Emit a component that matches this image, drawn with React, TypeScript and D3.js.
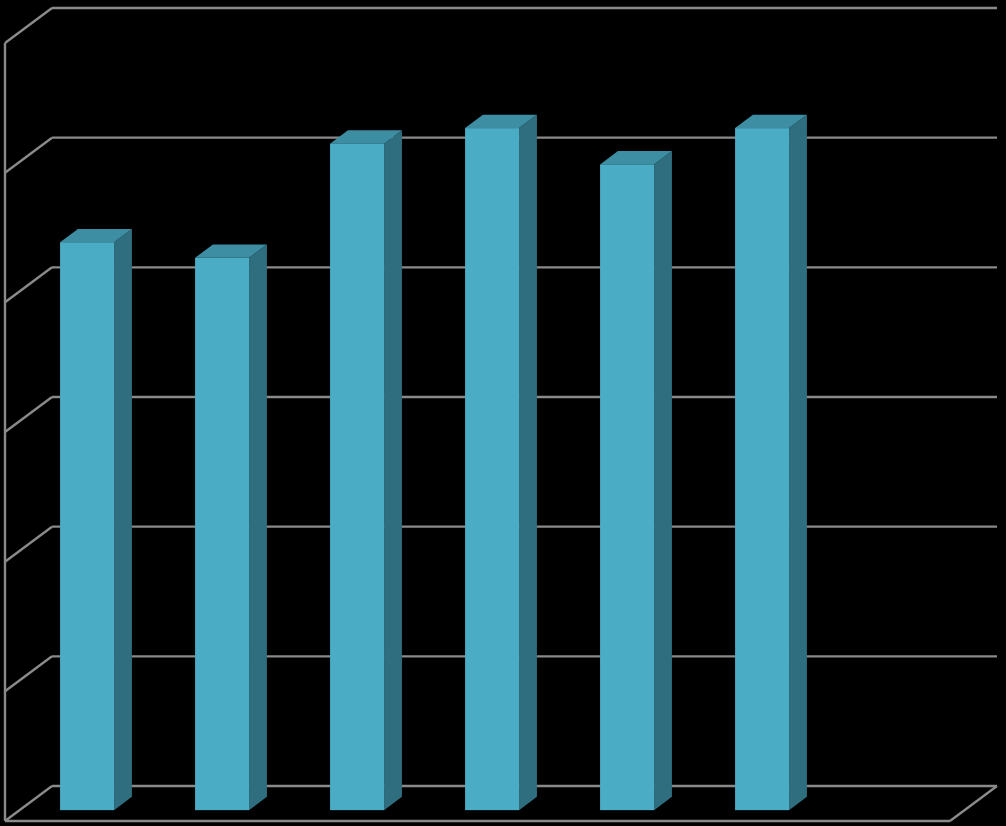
import React from "react";
import * as d3 from "d3";

const categories = ["A", "B", "C", "D", "E", "F", "G"];
const values: (number | null)[] = [43.8, 42.6, 51.4, 52.6, 49.8, 52.6, null];
const yTicks = [0, 10, 20, 30, 40, 50, 60];

const W = 1006;
const H = 826;
const DX = 47; // depth offset x
const DY = 35; // depth offset y
const FRONT_D = 0.31;
const BACK_D = 0.69;

export default function App() {
  const x = d3
    .scaleBand<string>()
    .domain(categories)
    .range([5, 950])
    .paddingInner(0.6)
    .paddingOuter(0.3);
  const y = d3.scaleLinear().domain([0, 60]).range([786, 8]);

  const px = (xf: number, d: number) => xf + d * DX;
  const py = (v: number, d: number) => y(v) + (1 - d) * DY;

  const grid = "#8a8a8a";
  const front = "#4BACC6";
  const side = "#2F6E7F";
  const top = "#3D8DA3";
  const sw = 2.4;

  return (
    <svg
      width={W}
      height={H}
      style={{ position: "absolute", left: 0, top: 0, display: "block" }}
    >
      <rect x={0} y={0} width={W} height={H} fill="#000" />
      {yTicks.map((t) => (
        <g key={t}>
          <line x1={px(5, 1)} x2={px(950, 1)} y1={py(t, 1)} y2={py(t, 1)} stroke={grid} strokeWidth={sw} />
          <line x1={px(5, 0)} x2={px(5, 1)} y1={py(t, 0)} y2={py(t, 1)} stroke={grid} strokeWidth={sw} />
        </g>
      ))}
      <line x1={5} x2={5} y1={py(60, 0)} y2={py(0, 0)} stroke={grid} strokeWidth={sw} />
      <line x1={px(5, 0)} x2={px(950, 0)} y1={py(0, 0)} y2={py(0, 0)} stroke={grid} strokeWidth={sw} />
      <line x1={px(950, 0)} x2={px(950, 1)} y1={py(0, 0)} y2={py(0, 1)} stroke={grid} strokeWidth={sw} />
      {categories.map((c, i) => {
        const v = values[i];
        if (v == null) return null;
        const x0 = x(c)!;
        const x1 = x0 + x.bandwidth();
        const fl = px(x0, FRONT_D);
        const fr = px(x1, FRONT_D);
        const br = px(x1, BACK_D);
        const bl = px(x0, BACK_D);
        const ft = py(v, FRONT_D);
        const fb = py(0, FRONT_D);
        const bt = py(v, BACK_D);
        const bb = py(0, BACK_D);
        return (
          <g key={c}>
            <polygon points={`${fr},${ft} ${br},${bt} ${br},${bb} ${fr},${fb}`} fill={side} />
            <polygon points={`${fl},${ft} ${bl},${bt} ${br},${bt} ${fr},${ft}`} fill={top} />
            <rect x={fl} y={ft} width={fr - fl} height={fb - ft} fill={front} />
          </g>
        );
      })}
    </svg>
  );
}
